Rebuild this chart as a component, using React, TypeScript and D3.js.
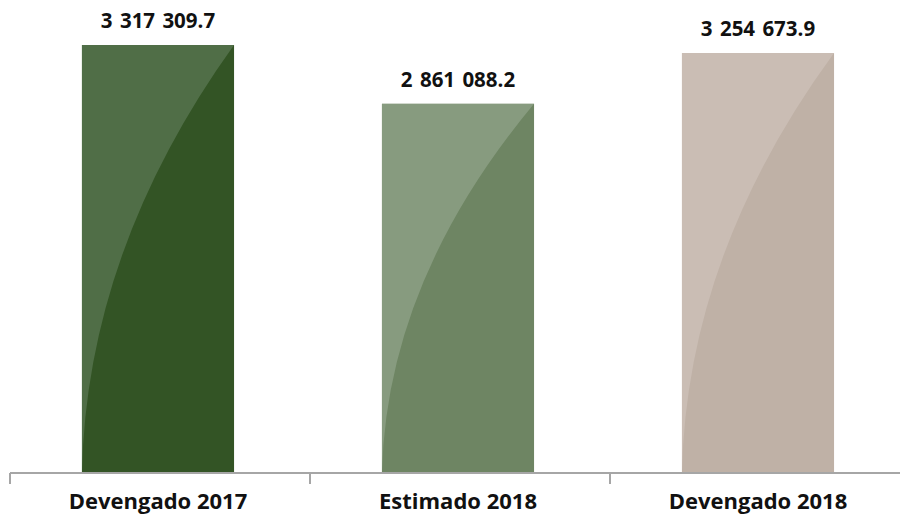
import React, { useMemo } from "react";
import * as d3 from "d3";

const WIDTH = 900;
const HEIGHT = 517;
const AXIS_Y = 473;

const categories = ["Devengado 2017", "Estimado 2018", "Devengado 2018"];
const values = [3317309.7, 2861088.2, 3254673.9];
const valueLabels = ["3 317 309.7", "2 861 088.2", "3 254 673.9"];
const darkColors = ["#335425", "#6e8563", "#bfb1a6"];
const lightColors = ["#506e47", "#879b7f", "#cabdb4"];

const FONT = "'Open Sans', 'DejaVu Sans', sans-serif";

export default function App() {
    const xScale = useMemo(() => d3.scaleBand()
        .domain(categories)
        .range([8, 908])
        .paddingInner(0.493)
        .paddingOuter(0.2465), []);

    // y(max) lands at the top of the tallest bar (~45px)
    const yScale = useMemo(() => d3.scaleLinear()
        .domain([0, 3317309.7])
        .range([AXIS_Y, 45]), []);

    const bw = xScale.bandwidth();
    const gap = (xScale.step() - bw) / 2;
    const tickXs = categories.map((c) => (xScale(c) ?? 0) - gap + 2);

    const bars = categories.map((c, i) => {
        const x0 = xScale(c) ?? 0;
        const x1 = x0 + bw;
        const top = yScale(values[i]);
        const bottom = yScale(0);
        const h = bottom - top;
        // lighter highlight: region left of a curve from bottom-left to top-right
        const path = d3.path();
        path.moveTo(x0, bottom);
        path.quadraticCurveTo(x0 + bw * 0.03, top + h * 0.48, x1, top);
        path.lineTo(x0, top);
        path.closePath();
        return (
            <g key={c}>
                <rect x={x0} y={top} width={bw} height={h} fill={darkColors[i]} />
                <path d={path.toString()} fill={lightColors[i]} />
                <text
                    x={x0 + bw / 2}
                    y={top - 17}
                    textAnchor="middle"
                    fontFamily={FONT}
                    fontWeight="bold"
                    fontSize={20.5}
                    wordSpacing={2}
                    fill="#111"
                >
                    {valueLabels[i]}
                </text>
                <text
                    x={x0 + bw / 2}
                    y={509}
                    textAnchor="middle"
                    fontFamily={FONT}
                    fontWeight="bold"
                    fontSize={22}
                    fill="#111"
                >
                    {c}
                </text>
            </g>
        );
    });

    return (
        <svg
            width={WIDTH}
            height={HEIGHT}
            style={{ position: "absolute", left: 0, top: 0, background: "#fff" }}
        >
            {bars}
            <line x1={10} x2={WIDTH} y1={AXIS_Y} y2={AXIS_Y} stroke="#a6a6a6" strokeWidth={2} />
            {tickXs.map((tx, i) => (
                <line key={i} x1={tx} x2={tx} y1={AXIS_Y} y2={AXIS_Y + 11} stroke="#a6a6a6" strokeWidth={2} />
            ))}
        </svg>
    );
}
